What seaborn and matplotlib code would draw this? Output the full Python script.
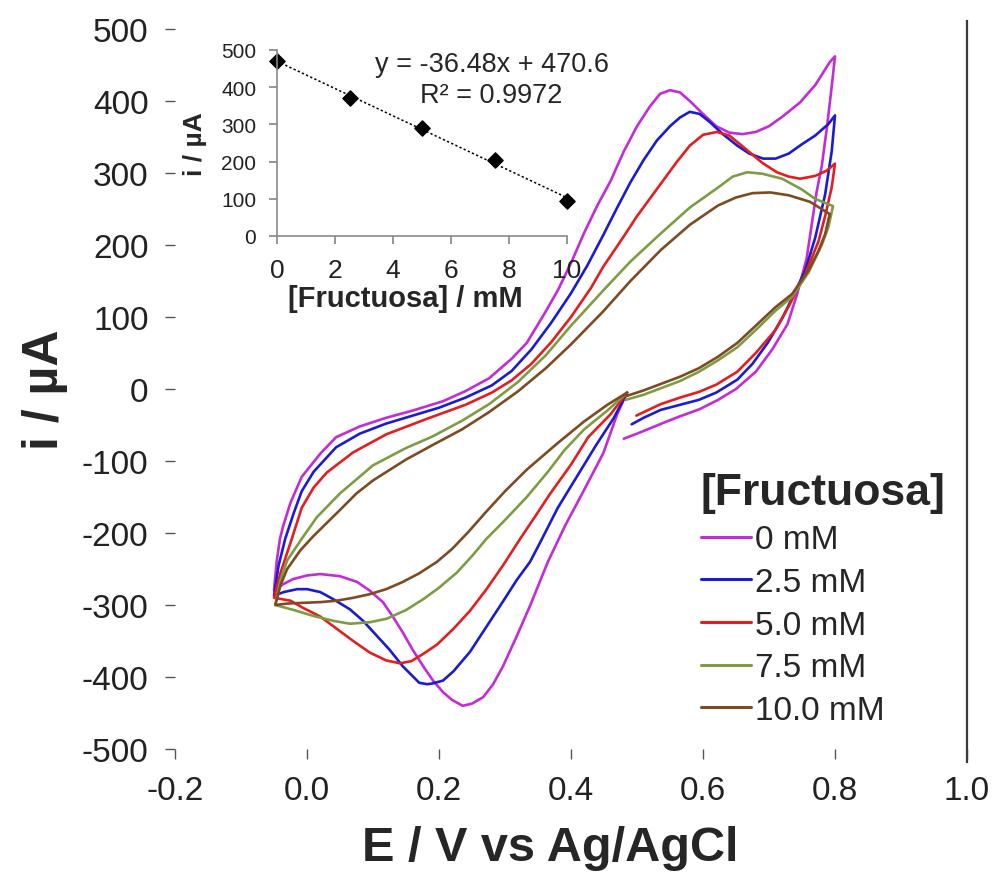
import matplotlib
matplotlib.use("Agg")
import matplotlib.pyplot as plt
import numpy as np
import pandas as pd
import seaborn as sns

# ---------------- data ----------------
labels = ["0 mM", "2.5 mM", "5.0 mM", "7.5 mM", "10.0 mM"]
colors = ["#C22CD6", "#1B1BD2", "#E31E1E", "#7E9C44", "#7E4A22"]

e_0 = [0.485, 0.470, 0.449, 0.420, 0.391, 0.365, 0.338, 0.317, 0.297, 0.282, 0.267, 0.250, 0.236, 0.220,
       0.206, 0.191, 0.176, 0.160, 0.145, 0.130, 0.115, 0.095, 0.076, 0.050, 0.020, 0.000, -0.021, -0.036,
       -0.050, -0.046, -0.041, -0.036, -0.025, -0.008, 0.020, 0.044, 0.080, 0.120, 0.160, 0.206, 0.240,
       0.276, 0.310, 0.333, 0.360, 0.380, 0.400, 0.420, 0.440, 0.460, 0.480, 0.500, 0.520, 0.535, 0.550,
       0.565, 0.580, 0.600, 0.620, 0.640, 0.660, 0.680, 0.700, 0.720, 0.747, 0.770, 0.792, 0.800, 0.795,
       0.788, 0.780, 0.772, 0.757, 0.742, 0.728, 0.705, 0.680, 0.650, 0.623, 0.595, 0.565, 0.540, 0.519,
       0.500, 0.480]
i_0 = [-5, -35, -89, -140, -190, -240, -301, -345, -385, -410, -428, -437, -440, -432,
       -421, -405, -385, -362, -338, -316, -296, -280, -268, -260, -257, -259, -264, -271,
       -280, -240, -208, -190, -158, -122, -90, -67, -52, -40, -30, -17, -3,
       15, 42, 64, 105, 137, 175, 217, 255, 289, 330, 365, 393, 410, 415,
       412, 400, 382, 365, 356, 354, 357, 365, 378, 398, 422, 454, 462, 420,
       365, 310, 273, 181, 130, 90, 55, 24, 0, -15, -28, -38, -47, -55,
       -62, -69]

e_25 = [0.485, 0.465, 0.438, 0.410, 0.380, 0.355, 0.338, 0.318, 0.297, 0.272, 0.247, 0.222, 0.206, 0.190,
        0.182, 0.170, 0.145, 0.125, 0.106, 0.085, 0.065, 0.040, 0.020, 0.000, -0.015, -0.035, -0.050,
        -0.043, -0.033, -0.020, -0.008, 0.010, 0.044, 0.080, 0.120, 0.160, 0.200, 0.240, 0.280, 0.310,
        0.340, 0.370, 0.400, 0.425, 0.449, 0.470, 0.490, 0.510, 0.530, 0.550, 0.565, 0.580, 0.595, 0.610,
        0.630, 0.652, 0.670, 0.691, 0.710, 0.730, 0.750, 0.770, 0.790, 0.800, 0.795, 0.785, 0.770, 0.755,
        0.738, 0.720, 0.698, 0.675, 0.652, 0.620, 0.594, 0.565, 0.536, 0.510, 0.492]
i_25 = [-5, -40, -78, -120, -165, -210, -240, -265, -295, -330, -365, -392, -405, -409,
        -410, -408, -385, -362, -343, -322, -306, -292, -282, -278, -278, -282, -287,
        -245, -208, -172, -142, -115, -81, -62, -48, -37, -26, -12, 5, 25,
        55, 92, 133, 172, 214, 252, 287, 318, 345, 365, 377, 385, 382, 371,
        354, 338, 327, 320, 320, 327, 340, 352, 368, 380, 330, 270, 210, 165,
        132, 98, 64, 35, 13, -5, -15, -22, -29, -40, -49]

e_50 = [0.485, 0.460, 0.426, 0.400, 0.368, 0.345, 0.323, 0.297, 0.272, 0.247, 0.222, 0.197, 0.176, 0.158,
        0.141, 0.120, 0.095, 0.070, 0.045, 0.020, -0.006, -0.025, -0.050, -0.040, -0.023, -0.008, 0.010,
        0.030, 0.070, 0.120, 0.180, 0.240, 0.280, 0.310, 0.340, 0.370, 0.400, 0.430, 0.449, 0.480, 0.500,
        0.520, 0.540, 0.560, 0.580, 0.600, 0.621, 0.640, 0.660, 0.690, 0.712, 0.730, 0.747, 0.770, 0.787,
        0.800, 0.795, 0.785, 0.775, 0.755, 0.730, 0.709, 0.680, 0.652, 0.620, 0.594, 0.565, 0.536, 0.515,
        0.499]
i_50 = [-5, -35, -67, -105, -146, -178, -208, -245, -278, -308, -333, -355, -368, -378,
        -381, -377, -366, -350, -333, -316, -304, -294, -290, -255, -208, -165, -137,
        -116, -88, -63, -42, -22, -5, 12, 35, 65, 100, 140, 170, 212, 240,
        265, 290, 315, 338, 353, 357, 352, 337, 314, 301, 295, 292, 296, 303,
        313, 280, 240, 205, 160, 115, 81, 50, 24, 6, -4, -12, -21, -30,
        -37]

e_75 = [0.485, 0.455, 0.420, 0.390, 0.365, 0.333, 0.300, 0.272, 0.250, 0.227, 0.200, 0.176, 0.150, 0.121,
        0.095, 0.065, 0.040, 0.009, -0.020, -0.048, -0.040, -0.030, -0.008, 0.015, 0.050, 0.100, 0.150,
        0.190, 0.235, 0.276, 0.320, 0.362, 0.400, 0.449, 0.490, 0.536, 0.580, 0.623, 0.645, 0.667, 0.690,
        0.720, 0.750, 0.770, 0.797, 0.790, 0.780, 0.760, 0.735, 0.709, 0.680, 0.652, 0.623, 0.594, 0.565,
        0.536, 0.510, 0.483]
i_75 = [-5, -30, -56, -85, -115, -150, -182, -208, -232, -255, -276, -292, -307, -319,
        -324, -326, -322, -315, -307, -300, -265, -238, -208, -178, -145, -106, -82,
        -66, -44, -21, 10, 47, 88, 137, 177, 216, 252, 280, 295, 301, 299,
        292, 277, 264, 254, 225, 200, 162, 128, 108, 82, 58, 40, 24, 11,
        1, -8, -15]

e_100 = [0.485, 0.455, 0.420, 0.380, 0.333, 0.300, 0.270, 0.245, 0.220, 0.197, 0.170, 0.145, 0.120, 0.095,
         0.070, 0.045, 0.020, -0.006, -0.030, -0.048, -0.040, -0.030, -0.010, 0.009, 0.030, 0.050, 0.075,
         0.100, 0.150, 0.190, 0.235, 0.276, 0.320, 0.362, 0.400, 0.449, 0.490, 0.536, 0.580, 0.623, 0.650,
         0.675, 0.702, 0.730, 0.762, 0.792, 0.785, 0.775, 0.760, 0.735, 0.709, 0.680, 0.652, 0.623, 0.594,
         0.565, 0.536, 0.510, 0.483]
i_100 = [-5, -22, -45, -75, -112, -142, -172, -198, -222, -240, -256, -268, -278, -285,
         -290, -294, -296, -297, -298, -300, -272, -250, -224, -205, -186, -168, -145,
         -127, -98, -78, -56, -32, -3, 29, 62, 108, 150, 193, 228, 255, 266,
         272, 273, 269, 260, 243, 215, 192, 165, 132, 113, 88, 64, 45, 29,
         17, 7, -2, -10]

# inset (calibration) data
fructose_mM = [0, 2.5, 5.0, 7.5, 10.0]
peak_current_uA = [470, 372, 290, 205, 95]

x_ticks = [-0.2, 0.0, 0.2, 0.4, 0.6, 0.8, 1.0]
y_ticks = [-500, -400, -300, -200, -100, 0, 100, 200, 300, 400, 500]
inset_x_ticks = [0, 2, 4, 6, 8, 10]
inset_y_ticks = [0, 100, 200, 300, 400, 500]

# ---------------- build frame ----------------
frames = []
for lab, e, i in zip(labels, [e_0, e_25, e_50, e_75, e_100], [i_0, i_25, i_50, i_75, i_100]):
    frames.append(pd.DataFrame({"E": e, "I": i, "conc": lab}))
df = pd.concat(frames, ignore_index=True)
df_cal = pd.DataFrame({"c": fructose_mM, "i": peak_current_uA})

# ---------------- style ----------------
sns.set_theme(style="white")
plt.rcParams["font.family"] = ["Liberation Sans", "DejaVu Sans"]
plt.rcParams["axes.unicode_minus"] = False

fig = plt.figure(figsize=(10, 8.79), dpi=100)
ax = fig.add_axes([0.175, 1 - 750 / 879, 0.792, 720 / 879])

sns.lineplot(data=df, x="E", y="I", hue="conc", hue_order=labels, palette=colors,
             sort=False, estimator=None, linewidth=1.9, ax=ax, legend=True)
for ln in ax.lines:
    ln.set_solid_joinstyle("round")

ax.set_xlim(-0.2, 1.0)
ax.set_ylim(-500, 500)
ax.set_xticks(x_ticks)
ax.set_xticklabels([f"{v:.1f}" for v in x_ticks])
ax.set_yticks(y_ticks)
ax.set_yticklabels([str(v) for v in y_ticks])
ax.tick_params(axis="both", labelsize=24, labelcolor="#222222", length=7, width=1.0,
               direction="out", left=True, bottom=True, color="#555555")
ax.tick_params(axis="x", pad=12)
ax.tick_params(axis="y", pad=12)
for s in ["top", "left", "bottom"]:
    ax.spines[s].set_visible(False)
ax.spines["right"].set_color("#3a3a3a")
ax.spines["right"].set_linewidth(1.6)
ax.spines["right"].set_bounds(-518, 511)

ax.set_xlabel("E / V vs Ag/AgCl", fontsize=35, fontweight="bold")
ax.xaxis.set_label_coords((550 - 175) / 792, -0.105)
ax.set_ylabel("i / µA", fontsize=36, fontweight="bold")
ax.yaxis.set_label_coords(-0.135, 0.5)

handles, labs = ax.get_legend_handles_labels()
leg = ax.legend(handles, labs, title="[Fructuosa]", loc="upper left",
                bbox_to_anchor=(0.684, 1 - 456 / 879), bbox_transform=fig.transFigure,
                frameon=False, fontsize=24, title_fontproperties={"size": 32, "weight": "bold"},
                handlelength=1.5, handletextpad=0.12, labelspacing=0.35, borderpad=0,
                alignment="left")
for h in leg.legend_handles:
    h.set_linewidth(2.2)

# ---------------- inset ----------------
ins = fig.add_axes([0.277, 1 - 237 / 879, 0.290, (237 - 51) / 879])
sns.regplot(data=df_cal, x="c", y="i", ci=None, ax=ins, truncate=True, marker="D",
            scatter_kws={"color": "black", "s": 60, "clip_on": False, "edgecolors": "black",
                         "alpha": 1.0},
            line_kws={"color": "black", "linestyle": (0, (1.5, 1.5)), "linewidth": 1.1})
ins.set_xlim(0, 10)
ins.set_ylim(0, 500)
ins.set_xticks(inset_x_ticks)
ins.set_yticks(inset_y_ticks)
ins.set_facecolor("none")
for s in ["top", "right"]:
    ins.spines[s].set_visible(False)
for s in ["left", "bottom"]:
    ins.spines[s].set_color("#8a8a8a")
    ins.spines[s].set_linewidth(1.2)
ins.tick_params(axis="x", labelsize=19, direction="out", length=6, color="#8a8a8a", pad=10,
                bottom=True, labelcolor="#222222")
ins.tick_params(axis="y", labelsize=15, direction="out", length=6, color="#8a8a8a", pad=9,
                left=True, labelcolor="#222222")
ins.set_xlabel("[Fructuosa] / mM", fontsize=21, fontweight="bold")
ins.xaxis.set_label_coords(0.441, -0.26)
ins.set_ylabel("i / µA", fontsize=19, fontweight="bold")
ins.yaxis.set_label_coords(-0.24, 0.5)
ins.text(0.74, 0.925, "y = -36.48x + 470.6", transform=ins.transAxes, ha="center",
         va="center", fontsize=19.5)
ins.text(0.74, 0.76, "R² = 0.9972", transform=ins.transAxes, ha="center",
         va="center", fontsize=19.5)

fig.savefig("out.png", dpi=100, facecolor="white")
